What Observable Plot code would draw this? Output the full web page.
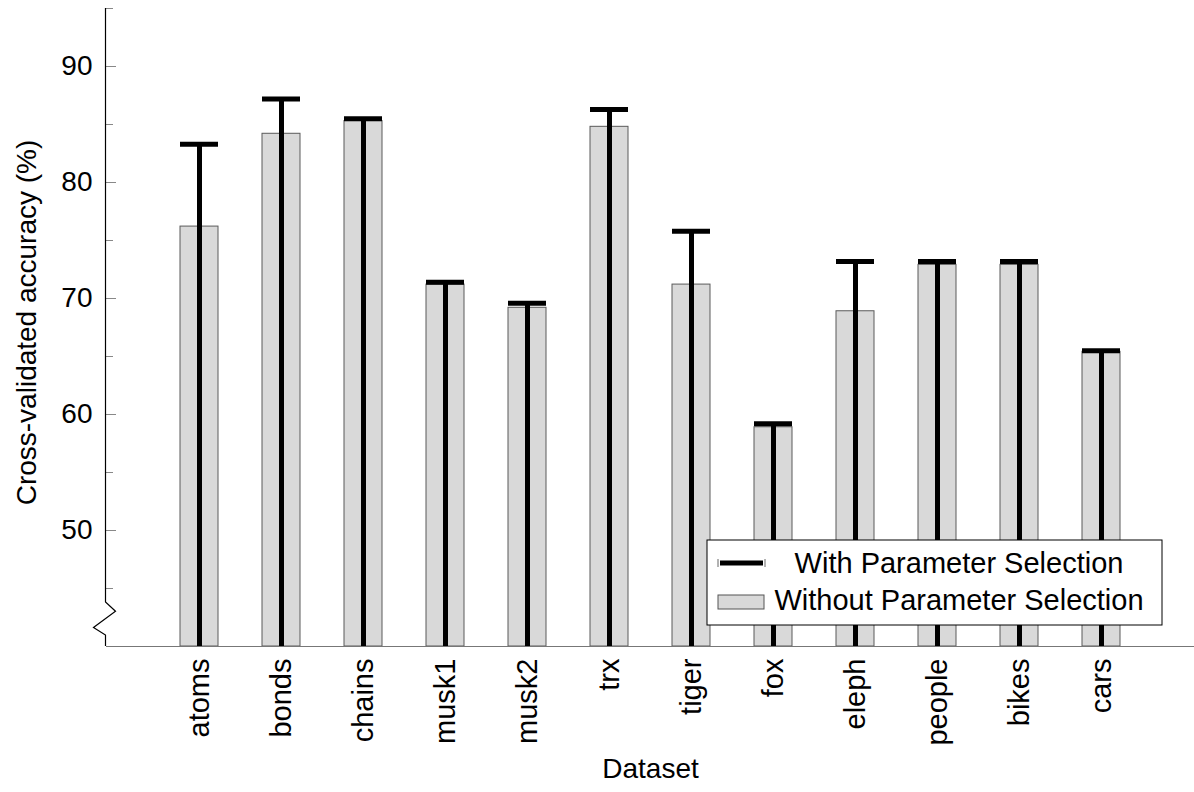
<!DOCTYPE html>
<html>
<head>
<meta charset="utf-8">
<script src="https://cdn.jsdelivr.net/npm/d3@7"></script>
<script src="https://cdn.jsdelivr.net/npm/@observablehq/plot@0.6"></script>
<style>
  html, body { margin: 0; padding: 0; background: white; }
  #chart { width: 1194px; height: 792px; }
</style>
</head>
<body>
<div id="chart"></div>
<script>
// Cross-validated accuracy per dataset, with and without parameter selection
const datasets = ["atoms", "bonds", "chains", "musk1", "musk2", "trx", "tiger", "fox", "eleph", "people", "bikes", "cars"];
const withSelection    = [83.3, 87.2, 85.5, 71.4, 69.6, 86.3, 75.8, 59.2, 73.2, 73.2, 73.2, 65.5];
const withoutSelection = [76.2, 84.2, 85.3, 71.2, 69.2, 84.8, 71.2, 58.9, 68.9, 72.9, 72.9, 65.4];

const yDomain = [40, 95];
const majorTicks = [50, 60, 70, 80, 90];
const minorTicks = [45, 55, 65, 75, 85, 95];

const seriesNames = ["With Parameter Selection", "Without Parameter Selection"];
const xLabel = "Dataset";
const yLabel = "Cross-validated accuracy (%)";

const rows = datasets.map((name, i) => ({name, with: withSelection[i], without: withoutSelection[i]}));

const width = 1194, height = 792;
const marginLeft = 106, marginRight = 0, marginTop = 8, marginBottom = 146;
const frameWidth = width - marginLeft - marginRight;
const font = "'Liberation Sans', Arial, sans-serif";
const yMin = yDomain[0];

// Left axis line with a zigzag break just above the baseline
function yAxisLine(index, scales, values, dimensions) {
  const y = scales.y;
  const x0 = dimensions.marginLeft - 0.5;
  const pts = [
    [x0, y(yDomain[1])],
    [x0, y(43.8)],
    [x0 + 10, y(43.0)],
    [x0 - 12, y(41.6)],
    [x0, y(40.95)],
    [x0, y(yDomain[0])]
  ];
  const g = d3.create("svg:path")
    .attr("d", d3.line()(pts))
    .attr("fill", "none")
    .attr("stroke", "black")
    .attr("stroke-width", 1.2);
  return g.node();
}

// Boxed legend in the lower right of the frame
function legend(index, scales, values, dimensions) {
  const right = dimensions.width - dimensions.marginRight - 32;
  const bottom = dimensions.height - dimensions.marginBottom - 21;
  const w = 455, h = 85;
  const left = right - w, top = bottom - h;
  const g = d3.create("svg:g").attr("font-family", font).attr("font-size", 29);
  g.append("rect")
    .attr("x", left).attr("y", top).attr("width", w).attr("height", h)
    .attr("fill", "white").attr("stroke", "black").attr("stroke-width", 1);
  // errorbar swatch
  g.append("line")
    .attr("x1", left + 13).attr("x2", left + 56)
    .attr("y1", top + 23).attr("y2", top + 23)
    .attr("stroke", "black").attr("stroke-width", 5);
  for (const dx of [11, 58]) {
    g.append("line")
      .attr("x1", left + dx).attr("x2", left + dx)
      .attr("y1", top + 19).attr("y2", top + 27)
      .attr("stroke", "#666").attr("stroke-width", 1);
  }
  // bar swatch
  g.append("rect")
    .attr("x", left + 11).attr("y", top + 55).attr("width", 46).attr("height", 14)
    .attr("fill", "#d9d9d9").attr("stroke", "#555").attr("stroke-width", 1);
  g.append("text")
    .attr("x", left + 252).attr("y", top + 33)
    .attr("text-anchor", "middle").attr("fill", "black")
    .text(seriesNames[0]);
  g.append("text")
    .attr("x", left + 252).attr("y", top + 70)
    .attr("text-anchor", "middle").attr("fill", "black")
    .text(seriesNames[1]);
  return g.node();
}

const chart = Plot.plot({
  width, height, marginLeft, marginRight, marginTop, marginBottom,
  style: {fontFamily: font, fontSize: "28px", background: "white", color: "black", overflow: "visible"},
  x: {domain: datasets, paddingInner: 0.54, paddingOuter: 0.85},
  y: {domain: yDomain},
  marks: [
    Plot.barY(rows, {x: "name", y1: yMin, y2: "without", fill: "#d9d9d9", stroke: "#5a5a5a", strokeWidth: 1}),
    Plot.ruleX(rows, {x: "name", y1: yMin, y2: "with", stroke: "black", strokeWidth: 5}),
    Plot.tickY(rows, {x: "name", y: "with", stroke: "black", strokeWidth: 5}),
    Plot.ruleY([yMin], {stroke: "#777", strokeWidth: 1.2}),
    Plot.ruleY(majorTicks, {stroke: "#888", strokeWidth: 1, insetRight: frameWidth - 10}),
    Plot.ruleY(minorTicks, {stroke: "#888", strokeWidth: 1, insetRight: frameWidth - 7}),
    yAxisLine,
    Plot.axisX({tickRotate: -90, tickSize: 0, tickPadding: 12, label: null, fontSize: 29}),
    Plot.axisY({ticks: majorTicks, tickSize: 0, tickPadding: 14, label: null, fontSize: 28}),
    Plot.text([xLabel], {frameAnchor: "bottom", dy: 131, fontSize: 28, fill: "black"}),
    Plot.text([yLabel], {frameAnchor: "left", textAnchor: "middle", rotate: -90, dx: -79, dy: -5, fontSize: 28, fill: "black"}),
    legend
  ]
});

document.getElementById("chart").appendChild(chart);
</script>
</body>
</html>
